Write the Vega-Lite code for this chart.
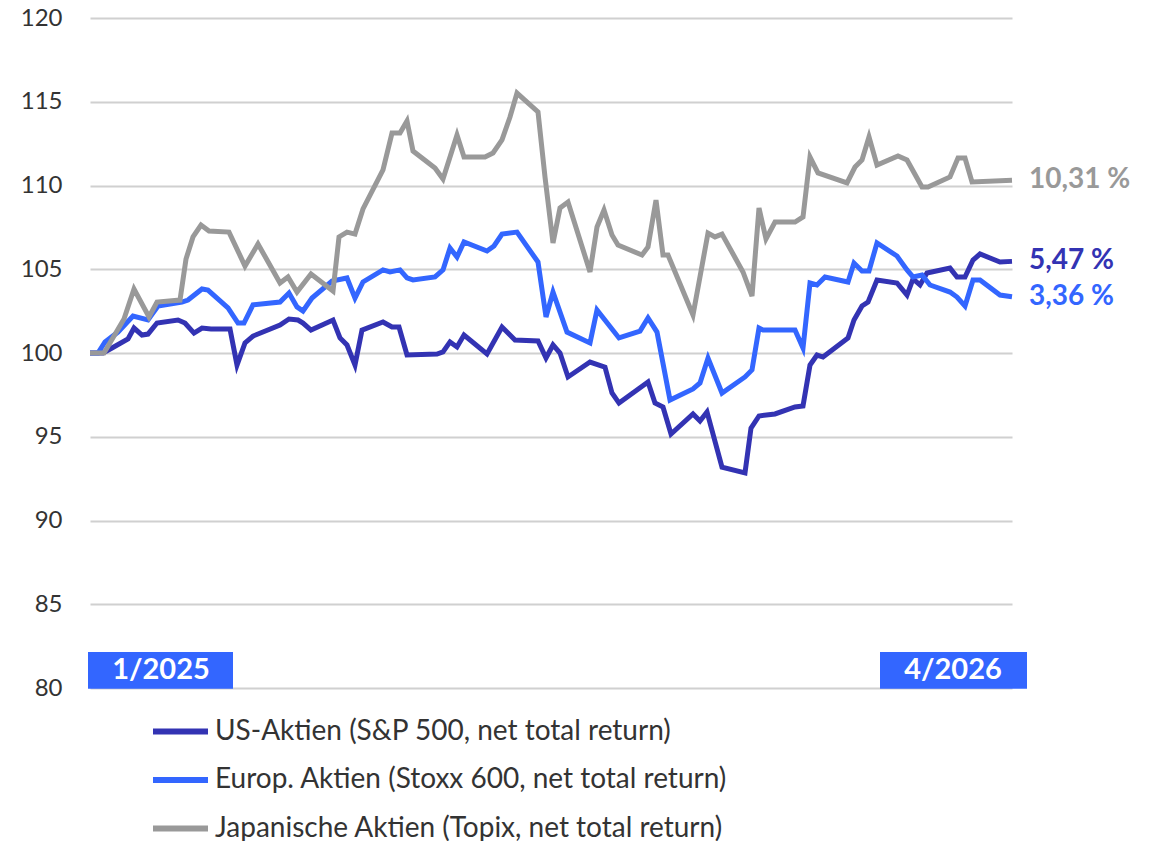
{
  "$schema": "https://vega.github.io/schema/vega-lite/v6.json",
  "width": 922,
  "height": 670,
  "autosize": {"type": "none"},
  "padding": {"left": 90, "top": 18, "right": 147, "bottom": 153},
  "background": "white",
  "config": {
    "view": {"stroke": null},
    "font": "Lato"
  },
  "data": {"values": [
      {"series": "US-Aktien (S&P 500, net total return)", "day": 0, "value": 100.0},
      {"series": "US-Aktien (S&P 500, net total return)", "day": 6.5, "value": 100.0},
      {"series": "US-Aktien (S&P 500, net total return)", "day": 11, "value": 100.3},
      {"series": "US-Aktien (S&P 500, net total return)", "day": 19, "value": 100.84},
      {"series": "US-Aktien (S&P 500, net total return)", "day": 22, "value": 101.49},
      {"series": "US-Aktien (S&P 500, net total return)", "day": 26, "value": 101.07},
      {"series": "US-Aktien (S&P 500, net total return)", "day": 29, "value": 101.13},
      {"series": "US-Aktien (S&P 500, net total return)", "day": 33.5, "value": 101.79},
      {"series": "US-Aktien (S&P 500, net total return)", "day": 44, "value": 101.97},
      {"series": "US-Aktien (S&P 500, net total return)", "day": 47.5, "value": 101.79},
      {"series": "US-Aktien (S&P 500, net total return)", "day": 52, "value": 101.19},
      {"series": "US-Aktien (S&P 500, net total return)", "day": 56, "value": 101.49},
      {"series": "US-Aktien (S&P 500, net total return)", "day": 60.5, "value": 101.43},
      {"series": "US-Aktien (S&P 500, net total return)", "day": 70, "value": 101.43},
      {"series": "US-Aktien (S&P 500, net total return)", "day": 73.5, "value": 99.28},
      {"series": "US-Aktien (S&P 500, net total return)", "day": 77.5, "value": 100.6},
      {"series": "US-Aktien (S&P 500, net total return)", "day": 81.5, "value": 101.01},
      {"series": "US-Aktien (S&P 500, net total return)", "day": 95, "value": 101.67},
      {"series": "US-Aktien (S&P 500, net total return)", "day": 99.5, "value": 102.03},
      {"series": "US-Aktien (S&P 500, net total return)", "day": 104, "value": 101.97},
      {"series": "US-Aktien (S&P 500, net total return)", "day": 106.5, "value": 101.79},
      {"series": "US-Aktien (S&P 500, net total return)", "day": 110.5, "value": 101.37},
      {"series": "US-Aktien (S&P 500, net total return)", "day": 121.5, "value": 101.97},
      {"series": "US-Aktien (S&P 500, net total return)", "day": 125, "value": 100.9},
      {"series": "US-Aktien (S&P 500, net total return)", "day": 128.5, "value": 100.48},
      {"series": "US-Aktien (S&P 500, net total return)", "day": 132.5, "value": 99.28},
      {"series": "US-Aktien (S&P 500, net total return)", "day": 136, "value": 101.37},
      {"series": "US-Aktien (S&P 500, net total return)", "day": 146.5, "value": 101.85},
      {"series": "US-Aktien (S&P 500, net total return)", "day": 151, "value": 101.55},
      {"series": "US-Aktien (S&P 500, net total return)", "day": 154.5, "value": 101.55},
      {"series": "US-Aktien (S&P 500, net total return)", "day": 158.5, "value": 99.88},
      {"series": "US-Aktien (S&P 500, net total return)", "day": 173.5, "value": 99.94},
      {"series": "US-Aktien (S&P 500, net total return)", "day": 176.5, "value": 100.06},
      {"series": "US-Aktien (S&P 500, net total return)", "day": 180, "value": 100.66},
      {"series": "US-Aktien (S&P 500, net total return)", "day": 183.5, "value": 100.36},
      {"series": "US-Aktien (S&P 500, net total return)", "day": 187, "value": 101.07},
      {"series": "US-Aktien (S&P 500, net total return)", "day": 198.5, "value": 99.94},
      {"series": "US-Aktien (S&P 500, net total return)", "day": 206, "value": 101.55},
      {"series": "US-Aktien (S&P 500, net total return)", "day": 212.5, "value": 100.78},
      {"series": "US-Aktien (S&P 500, net total return)", "day": 224, "value": 100.72},
      {"series": "US-Aktien (S&P 500, net total return)", "day": 228, "value": 99.7},
      {"series": "US-Aktien (S&P 500, net total return)", "day": 231.5, "value": 100.48},
      {"series": "US-Aktien (S&P 500, net total return)", "day": 235, "value": 100.0},
      {"series": "US-Aktien (S&P 500, net total return)", "day": 239, "value": 98.57},
      {"series": "US-Aktien (S&P 500, net total return)", "day": 250, "value": 99.46},
      {"series": "US-Aktien (S&P 500, net total return)", "day": 257.5, "value": 99.16},
      {"series": "US-Aktien (S&P 500, net total return)", "day": 261, "value": 97.61},
      {"series": "US-Aktien (S&P 500, net total return)", "day": 264.5, "value": 97.01},
      {"series": "US-Aktien (S&P 500, net total return)", "day": 279, "value": 98.27},
      {"series": "US-Aktien (S&P 500, net total return)", "day": 282.5, "value": 97.01},
      {"series": "US-Aktien (S&P 500, net total return)", "day": 286.5, "value": 96.78},
      {"series": "US-Aktien (S&P 500, net total return)", "day": 290.5, "value": 95.16},
      {"series": "US-Aktien (S&P 500, net total return)", "day": 301.5, "value": 96.36},
      {"series": "US-Aktien (S&P 500, net total return)", "day": 305, "value": 95.94},
      {"series": "US-Aktien (S&P 500, net total return)", "day": 308.5, "value": 96.48},
      {"series": "US-Aktien (S&P 500, net total return)", "day": 316, "value": 93.19},
      {"series": "US-Aktien (S&P 500, net total return)", "day": 327.5, "value": 92.84},
      {"series": "US-Aktien (S&P 500, net total return)", "day": 330.5, "value": 95.52},
      {"series": "US-Aktien (S&P 500, net total return)", "day": 334.5, "value": 96.24},
      {"series": "US-Aktien (S&P 500, net total return)", "day": 342.5, "value": 96.36},
      {"series": "US-Aktien (S&P 500, net total return)", "day": 352.5, "value": 96.78},
      {"series": "US-Aktien (S&P 500, net total return)", "day": 356.5, "value": 96.84},
      {"series": "US-Aktien (S&P 500, net total return)", "day": 360, "value": 99.28},
      {"series": "US-Aktien (S&P 500, net total return)", "day": 363.5, "value": 99.88},
      {"series": "US-Aktien (S&P 500, net total return)", "day": 366.5, "value": 99.76},
      {"series": "US-Aktien (S&P 500, net total return)", "day": 379, "value": 100.9},
      {"series": "US-Aktien (S&P 500, net total return)", "day": 382, "value": 101.97},
      {"series": "US-Aktien (S&P 500, net total return)", "day": 386, "value": 102.81},
      {"series": "US-Aktien (S&P 500, net total return)", "day": 389, "value": 103.04},
      {"series": "US-Aktien (S&P 500, net total return)", "day": 393.5, "value": 104.36},
      {"series": "US-Aktien (S&P 500, net total return)", "day": 403.5, "value": 104.18},
      {"series": "US-Aktien (S&P 500, net total return)", "day": 408.5, "value": 103.46},
      {"series": "US-Aktien (S&P 500, net total return)", "day": 411.5, "value": 104.42},
      {"series": "US-Aktien (S&P 500, net total return)", "day": 415, "value": 104.06},
      {"series": "US-Aktien (S&P 500, net total return)", "day": 418.5, "value": 104.78},
      {"series": "US-Aktien (S&P 500, net total return)", "day": 430, "value": 105.07},
      {"series": "US-Aktien (S&P 500, net total return)", "day": 433.5, "value": 104.54},
      {"series": "US-Aktien (S&P 500, net total return)", "day": 437.5, "value": 104.54},
      {"series": "US-Aktien (S&P 500, net total return)", "day": 441.5, "value": 105.55},
      {"series": "US-Aktien (S&P 500, net total return)", "day": 445, "value": 105.91},
      {"series": "US-Aktien (S&P 500, net total return)", "day": 455, "value": 105.43},
      {"series": "US-Aktien (S&P 500, net total return)", "day": 461, "value": 105.47, "label": "5,47 %"},

      {"series": "Europ. Aktien (Stoxx 600, net total return)", "day": 0, "value": 100.0},
      {"series": "Europ. Aktien (Stoxx 600, net total return)", "day": 4, "value": 100.0},
      {"series": "Europ. Aktien (Stoxx 600, net total return)", "day": 7.5, "value": 100.66},
      {"series": "Europ. Aktien (Stoxx 600, net total return)", "day": 14, "value": 101.25},
      {"series": "Europ. Aktien (Stoxx 600, net total return)", "day": 21.5, "value": 102.21},
      {"series": "Europ. Aktien (Stoxx 600, net total return)", "day": 29, "value": 101.97},
      {"series": "Europ. Aktien (Stoxx 600, net total return)", "day": 34, "value": 102.81},
      {"series": "Europ. Aktien (Stoxx 600, net total return)", "day": 46, "value": 103.04},
      {"series": "Europ. Aktien (Stoxx 600, net total return)", "day": 49, "value": 103.16},
      {"series": "Europ. Aktien (Stoxx 600, net total return)", "day": 56, "value": 103.82},
      {"series": "Europ. Aktien (Stoxx 600, net total return)", "day": 59, "value": 103.76},
      {"series": "Europ. Aktien (Stoxx 600, net total return)", "day": 69, "value": 102.69},
      {"series": "Europ. Aktien (Stoxx 600, net total return)", "day": 74, "value": 101.79},
      {"series": "Europ. Aktien (Stoxx 600, net total return)", "day": 77, "value": 101.79},
      {"series": "Europ. Aktien (Stoxx 600, net total return)", "day": 81.5, "value": 102.87},
      {"series": "Europ. Aktien (Stoxx 600, net total return)", "day": 95, "value": 103.04},
      {"series": "Europ. Aktien (Stoxx 600, net total return)", "day": 99.5, "value": 103.58},
      {"series": "Europ. Aktien (Stoxx 600, net total return)", "day": 103.5, "value": 102.75},
      {"series": "Europ. Aktien (Stoxx 600, net total return)", "day": 106.5, "value": 102.51},
      {"series": "Europ. Aktien (Stoxx 600, net total return)", "day": 111, "value": 103.28},
      {"series": "Europ. Aktien (Stoxx 600, net total return)", "day": 121, "value": 104.3},
      {"series": "Europ. Aktien (Stoxx 600, net total return)", "day": 128.5, "value": 104.48},
      {"series": "Europ. Aktien (Stoxx 600, net total return)", "day": 132.5, "value": 103.28},
      {"series": "Europ. Aktien (Stoxx 600, net total return)", "day": 136.5, "value": 104.24},
      {"series": "Europ. Aktien (Stoxx 600, net total return)", "day": 146.5, "value": 104.96},
      {"series": "Europ. Aktien (Stoxx 600, net total return)", "day": 150, "value": 104.84},
      {"series": "Europ. Aktien (Stoxx 600, net total return)", "day": 155, "value": 104.96},
      {"series": "Europ. Aktien (Stoxx 600, net total return)", "day": 158.5, "value": 104.48},
      {"series": "Europ. Aktien (Stoxx 600, net total return)", "day": 161.5, "value": 104.36},
      {"series": "Europ. Aktien (Stoxx 600, net total return)", "day": 172.5, "value": 104.54},
      {"series": "Europ. Aktien (Stoxx 600, net total return)", "day": 176.5, "value": 104.96},
      {"series": "Europ. Aktien (Stoxx 600, net total return)", "day": 180, "value": 106.27},
      {"series": "Europ. Aktien (Stoxx 600, net total return)", "day": 183.5, "value": 105.73},
      {"series": "Europ. Aktien (Stoxx 600, net total return)", "day": 187, "value": 106.63},
      {"series": "Europ. Aktien (Stoxx 600, net total return)", "day": 198.5, "value": 106.09},
      {"series": "Europ. Aktien (Stoxx 600, net total return)", "day": 202, "value": 106.39},
      {"series": "Europ. Aktien (Stoxx 600, net total return)", "day": 206, "value": 107.1},
      {"series": "Europ. Aktien (Stoxx 600, net total return)", "day": 213.5, "value": 107.22},
      {"series": "Europ. Aktien (Stoxx 600, net total return)", "day": 224, "value": 105.43},
      {"series": "Europ. Aktien (Stoxx 600, net total return)", "day": 228, "value": 102.15},
      {"series": "Europ. Aktien (Stoxx 600, net total return)", "day": 231.5, "value": 103.64},
      {"series": "Europ. Aktien (Stoxx 600, net total return)", "day": 238.5, "value": 101.25},
      {"series": "Europ. Aktien (Stoxx 600, net total return)", "day": 250, "value": 100.6},
      {"series": "Europ. Aktien (Stoxx 600, net total return)", "day": 253.5, "value": 102.57},
      {"series": "Europ. Aktien (Stoxx 600, net total return)", "day": 264.5, "value": 100.9},
      {"series": "Europ. Aktien (Stoxx 600, net total return)", "day": 275, "value": 101.31},
      {"series": "Europ. Aktien (Stoxx 600, net total return)", "day": 279, "value": 102.09},
      {"series": "Europ. Aktien (Stoxx 600, net total return)", "day": 283.5, "value": 101.25},
      {"series": "Europ. Aktien (Stoxx 600, net total return)", "day": 290, "value": 97.19},
      {"series": "Europ. Aktien (Stoxx 600, net total return)", "day": 301.5, "value": 97.85},
      {"series": "Europ. Aktien (Stoxx 600, net total return)", "day": 305, "value": 98.21},
      {"series": "Europ. Aktien (Stoxx 600, net total return)", "day": 309, "value": 99.7},
      {"series": "Europ. Aktien (Stoxx 600, net total return)", "day": 316, "value": 97.61},
      {"series": "Europ. Aktien (Stoxx 600, net total return)", "day": 327.5, "value": 98.57},
      {"series": "Europ. Aktien (Stoxx 600, net total return)", "day": 331, "value": 98.99},
      {"series": "Europ. Aktien (Stoxx 600, net total return)", "day": 334.5, "value": 101.49},
      {"series": "Europ. Aktien (Stoxx 600, net total return)", "day": 336.5, "value": 101.37},
      {"series": "Europ. Aktien (Stoxx 600, net total return)", "day": 352.5, "value": 101.37},
      {"series": "Europ. Aktien (Stoxx 600, net total return)", "day": 356.5, "value": 100.3},
      {"series": "Europ. Aktien (Stoxx 600, net total return)", "day": 360, "value": 104.18},
      {"series": "Europ. Aktien (Stoxx 600, net total return)", "day": 363.5, "value": 104.06},
      {"series": "Europ. Aktien (Stoxx 600, net total return)", "day": 367.5, "value": 104.54},
      {"series": "Europ. Aktien (Stoxx 600, net total return)", "day": 379, "value": 104.24},
      {"series": "Europ. Aktien (Stoxx 600, net total return)", "day": 382, "value": 105.37},
      {"series": "Europ. Aktien (Stoxx 600, net total return)", "day": 386, "value": 104.9},
      {"series": "Europ. Aktien (Stoxx 600, net total return)", "day": 389.5, "value": 104.9},
      {"series": "Europ. Aktien (Stoxx 600, net total return)", "day": 393.5, "value": 106.57},
      {"series": "Europ. Aktien (Stoxx 600, net total return)", "day": 403.5, "value": 105.79},
      {"series": "Europ. Aktien (Stoxx 600, net total return)", "day": 408.5, "value": 104.96},
      {"series": "Europ. Aktien (Stoxx 600, net total return)", "day": 411.5, "value": 104.54},
      {"series": "Europ. Aktien (Stoxx 600, net total return)", "day": 416, "value": 104.66},
      {"series": "Europ. Aktien (Stoxx 600, net total return)", "day": 420, "value": 104.06},
      {"series": "Europ. Aktien (Stoxx 600, net total return)", "day": 430, "value": 103.64},
      {"series": "Europ. Aktien (Stoxx 600, net total return)", "day": 433.5, "value": 103.34},
      {"series": "Europ. Aktien (Stoxx 600, net total return)", "day": 437.5, "value": 102.81},
      {"series": "Europ. Aktien (Stoxx 600, net total return)", "day": 441.5, "value": 104.36},
      {"series": "Europ. Aktien (Stoxx 600, net total return)", "day": 445, "value": 104.36},
      {"series": "Europ. Aktien (Stoxx 600, net total return)", "day": 455, "value": 103.46},
      {"series": "Europ. Aktien (Stoxx 600, net total return)", "day": 461, "value": 103.36, "label": "3,36 %"},

      {"series": "Japanische Aktien (Topix, net total return)", "day": 0, "value": 100.0},
      {"series": "Japanische Aktien (Topix, net total return)", "day": 7, "value": 100.0},
      {"series": "Japanische Aktien (Topix, net total return)", "day": 17, "value": 102.03},
      {"series": "Japanische Aktien (Topix, net total return)", "day": 22, "value": 103.82},
      {"series": "Japanische Aktien (Topix, net total return)", "day": 29.5, "value": 102.15},
      {"series": "Japanische Aktien (Topix, net total return)", "day": 33.5, "value": 103.04},
      {"series": "Japanische Aktien (Topix, net total return)", "day": 45, "value": 103.16},
      {"series": "Japanische Aktien (Topix, net total return)", "day": 48, "value": 105.61},
      {"series": "Japanische Aktien (Topix, net total return)", "day": 51.5, "value": 106.93},
      {"series": "Japanische Aktien (Topix, net total return)", "day": 55.5, "value": 107.64},
      {"series": "Japanische Aktien (Topix, net total return)", "day": 59.5, "value": 107.28},
      {"series": "Japanische Aktien (Topix, net total return)", "day": 69.5, "value": 107.22},
      {"series": "Japanische Aktien (Topix, net total return)", "day": 77.5, "value": 105.19},
      {"series": "Japanische Aktien (Topix, net total return)", "day": 84, "value": 106.51},
      {"series": "Japanische Aktien (Topix, net total return)", "day": 95, "value": 104.18},
      {"series": "Japanische Aktien (Topix, net total return)", "day": 99, "value": 104.54},
      {"series": "Japanische Aktien (Topix, net total return)", "day": 103.5, "value": 103.64},
      {"series": "Japanische Aktien (Topix, net total return)", "day": 110.5, "value": 104.72},
      {"series": "Japanische Aktien (Topix, net total return)", "day": 121.5, "value": 103.7},
      {"series": "Japanische Aktien (Topix, net total return)", "day": 124.5, "value": 106.93},
      {"series": "Japanische Aktien (Topix, net total return)", "day": 128.5, "value": 107.22},
      {"series": "Japanische Aktien (Topix, net total return)", "day": 132.5, "value": 107.1},
      {"series": "Japanische Aktien (Topix, net total return)", "day": 136.5, "value": 108.6},
      {"series": "Japanische Aktien (Topix, net total return)", "day": 146.5, "value": 110.93},
      {"series": "Japanische Aktien (Topix, net total return)", "day": 151, "value": 113.13},
      {"series": "Japanische Aktien (Topix, net total return)", "day": 155, "value": 113.13},
      {"series": "Japanische Aktien (Topix, net total return)", "day": 158.5, "value": 113.85},
      {"series": "Japanische Aktien (Topix, net total return)", "day": 161.5, "value": 112.06},
      {"series": "Japanische Aktien (Topix, net total return)", "day": 172.5, "value": 111.04},
      {"series": "Japanische Aktien (Topix, net total return)", "day": 176.5, "value": 110.39},
      {"series": "Japanische Aktien (Topix, net total return)", "day": 183.5, "value": 113.01},
      {"series": "Japanische Aktien (Topix, net total return)", "day": 187, "value": 111.7},
      {"series": "Japanische Aktien (Topix, net total return)", "day": 197.5, "value": 111.7},
      {"series": "Japanische Aktien (Topix, net total return)", "day": 201.5, "value": 111.94},
      {"series": "Japanische Aktien (Topix, net total return)", "day": 206, "value": 112.72},
      {"series": "Japanische Aktien (Topix, net total return)", "day": 210, "value": 114.09},
      {"series": "Japanische Aktien (Topix, net total return)", "day": 213.5, "value": 115.52},
      {"series": "Japanische Aktien (Topix, net total return)", "day": 224, "value": 114.39},
      {"series": "Japanische Aktien (Topix, net total return)", "day": 227.5, "value": 110.51},
      {"series": "Japanische Aktien (Topix, net total return)", "day": 231.5, "value": 106.57},
      {"series": "Japanische Aktien (Topix, net total return)", "day": 235, "value": 108.66},
      {"series": "Japanische Aktien (Topix, net total return)", "day": 239, "value": 109.01},
      {"series": "Japanische Aktien (Topix, net total return)", "day": 250, "value": 104.84},
      {"series": "Japanische Aktien (Topix, net total return)", "day": 253.5, "value": 107.52},
      {"series": "Japanische Aktien (Topix, net total return)", "day": 257, "value": 108.54},
      {"series": "Japanische Aktien (Topix, net total return)", "day": 261, "value": 107.04},
      {"series": "Japanische Aktien (Topix, net total return)", "day": 264, "value": 106.45},
      {"series": "Japanische Aktien (Topix, net total return)", "day": 276, "value": 105.85},
      {"series": "Japanische Aktien (Topix, net total return)", "day": 279, "value": 106.33},
      {"series": "Japanische Aktien (Topix, net total return)", "day": 283, "value": 109.13},
      {"series": "Japanische Aktien (Topix, net total return)", "day": 286.5, "value": 105.85},
      {"series": "Japanische Aktien (Topix, net total return)", "day": 289, "value": 105.85},
      {"series": "Japanische Aktien (Topix, net total return)", "day": 301.5, "value": 102.27},
      {"series": "Japanische Aktien (Topix, net total return)", "day": 309, "value": 107.16},
      {"series": "Japanische Aktien (Topix, net total return)", "day": 312.5, "value": 106.93},
      {"series": "Japanische Aktien (Topix, net total return)", "day": 316, "value": 107.1},
      {"series": "Japanische Aktien (Topix, net total return)", "day": 326.5, "value": 104.84},
      {"series": "Japanische Aktien (Topix, net total return)", "day": 331, "value": 103.4},
      {"series": "Japanische Aktien (Topix, net total return)", "day": 334.5, "value": 108.66},
      {"series": "Japanische Aktien (Topix, net total return)", "day": 338, "value": 106.81},
      {"series": "Japanische Aktien (Topix, net total return)", "day": 342.5, "value": 107.82},
      {"series": "Japanische Aktien (Topix, net total return)", "day": 352.5, "value": 107.82},
      {"series": "Japanische Aktien (Topix, net total return)", "day": 356.5, "value": 108.12},
      {"series": "Japanische Aktien (Topix, net total return)", "day": 360, "value": 111.7},
      {"series": "Japanische Aktien (Topix, net total return)", "day": 364, "value": 110.75},
      {"series": "Japanische Aktien (Topix, net total return)", "day": 378.5, "value": 110.15},
      {"series": "Japanische Aktien (Topix, net total return)", "day": 382.5, "value": 111.1},
      {"series": "Japanische Aktien (Topix, net total return)", "day": 386, "value": 111.52},
      {"series": "Japanische Aktien (Topix, net total return)", "day": 389.5, "value": 112.9},
      {"series": "Japanische Aktien (Topix, net total return)", "day": 393.5, "value": 111.22},
      {"series": "Japanische Aktien (Topix, net total return)", "day": 404, "value": 111.76},
      {"series": "Japanische Aktien (Topix, net total return)", "day": 408.5, "value": 111.52},
      {"series": "Japanische Aktien (Topix, net total return)", "day": 416, "value": 109.91},
      {"series": "Japanische Aktien (Topix, net total return)", "day": 419, "value": 109.91},
      {"series": "Japanische Aktien (Topix, net total return)", "day": 430, "value": 110.51},
      {"series": "Japanische Aktien (Topix, net total return)", "day": 434, "value": 111.64},
      {"series": "Japanische Aktien (Topix, net total return)", "day": 437.5, "value": 111.64},
      {"series": "Japanische Aktien (Topix, net total return)", "day": 441, "value": 110.21},
      {"series": "Japanische Aktien (Topix, net total return)", "day": 461, "value": 110.31, "label": "10,31 %"}
  ]},
  "layer": [
    {
      "mark": {"type": "line", "strokeWidth": 5},
      "encoding": {
        "x": {"field": "day", "type": "quantitative", "scale": {"domain": [0, 461], "nice": false, "zero": false}, "axis": null},
        "y": {
          "field": "value", "type": "quantitative",
          "scale": {"domain": [80, 120], "nice": false, "zero": false},
          "axis": {
            "title": null, "tickCount": 8,
            "grid": true, "gridColor": "#d0d0d0", "gridWidth": 2,
            "domain": false, "ticks": false, "labelPadding": 28,
            "labelFontSize": 24, "labelColor": "#333333"
          }
        },
        "color": {
          "field": "series", "type": "nominal",
          "scale": {
            "domain": ["US-Aktien (S&P 500, net total return)", "Europ. Aktien (Stoxx 600, net total return)", "Japanische Aktien (Topix, net total return)"],
            "range": ["#3333b3", "#3366ff", "#999999"]
          },
          "legend": {
            "title": null, "orient": "bottom", "direction": "vertical",
            "padding": 60, "offset": -47, "rowPadding": 3.5,
            "symbolType": "stroke", "symbolSize": 3025,
            "symbolStrokeWidth": 6, "labelFontSize": 28, "labelColor": "#333333",
            "labelLimit": 800
          }
        }
      }
    },
    {
      "data": {"values": [
        {"label": "1/2025", "start": -1, "end": 71.5, "mid": 35.5, "low": 79.95, "high": 82.15, "center": 81.05},
        {"label": "4/2026", "start": 395, "end": 468.5, "mid": 431.5, "low": 79.95, "high": 82.15, "center": 81.05}
      ]},
      "mark": {"type": "rect", "color": "#3366ff"},
      "encoding": {
        "x": {"field": "start", "type": "quantitative", "axis": null},
        "x2": {"field": "end"},
        "y": {
          "field": "low", "type": "quantitative",
          "axis": {
            "title": null, "tickCount": 8,
            "grid": true, "gridColor": "#d0d0d0", "gridWidth": 2,
            "domain": false, "ticks": false, "labelPadding": 28,
            "labelFontSize": 24, "labelColor": "#333333"
          }
        },
        "y2": {"field": "high"}
      }
    },
    {
      "data": {"values": [
        {"label": "1/2025", "start": -1, "end": 71.5, "mid": 35.5, "low": 79.95, "high": 82.15, "center": 81.05},
        {"label": "4/2026", "start": 395, "end": 468.5, "mid": 431.5, "low": 79.95, "high": 82.15, "center": 81.05}
      ]},
      "mark": {"type": "text", "color": "white", "fontWeight": "bold", "fontSize": 29, "baseline": "middle", "align": "center"},
      "encoding": {
        "x": {"field": "mid", "type": "quantitative", "axis": null},
        "y": {
          "field": "center", "type": "quantitative",
          "axis": {
            "title": null, "tickCount": 8,
            "grid": true, "gridColor": "#d0d0d0", "gridWidth": 2,
            "domain": false, "ticks": false, "labelPadding": 28,
            "labelFontSize": 24, "labelColor": "#333333"
          }
        },
        "text": {"field": "label", "type": "nominal"}
      }
    },
    {
      "transform": [{"filter": "isValid(datum.label)"}],
      "mark": {"type": "text", "align": "left", "baseline": "middle", "dx": 17, "fontWeight": "bold", "fontSize": 28},
      "encoding": {
        "x": {"field": "day", "type": "quantitative", "axis": null},
        "y": {
          "field": "value", "type": "quantitative",
          "axis": {
            "title": null, "tickCount": 8,
            "grid": true, "gridColor": "#d0d0d0", "gridWidth": 2,
            "domain": false, "ticks": false, "labelPadding": 28,
            "labelFontSize": 24, "labelColor": "#333333"
          }
        },
        "text": {"field": "label", "type": "nominal"},
        "color": {"field": "series", "type": "nominal", "legend": null}
      }
    }
  ]
}
